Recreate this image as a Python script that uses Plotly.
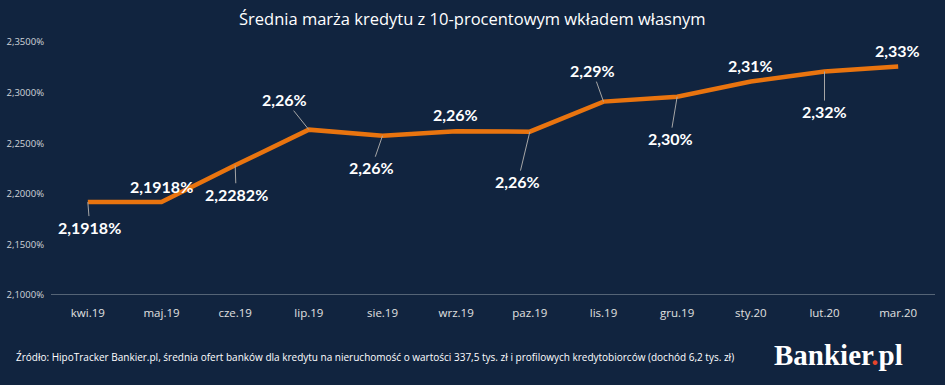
import plotly.graph_objects as go

categories = ["kwi.19", "maj.19", "cze.19", "lip.19", "sie.19", "wrz.19",
              "paz.19", "lis.19", "gru.19", "sty.20", "lut.20", "mar.20"]
values = [2.1918, 2.1918, 2.2282, 2.2634, 2.2574, 2.2618,
          2.2614, 2.2911, 2.2960, 2.3110, 2.3208, 2.3257]
labels = ["2,1918%", "2,1918%", "2,2282%", "2,26%", "2,26%", "2,26%",
          "2,26%", "2,29%", "2,30%", "2,31%", "2,32%", "2,33%"]
# label offsets (px) relative to point, and whether a leader line is shown
label_dx = [2, 0, 1, -24, -11, -1, -12, -11, -7, 0, 0, -1]
label_dy = [25, -16, 29, -30, 32, -17, 50, -31, 42, -16, 40, -16]
leader = [True, False, True, True, True, False, True, True, True, False, True, False]

ytick_vals = [2.10, 2.15, 2.20, 2.25, 2.30, 2.35]
ytick_text = ["2,1000%", "2,1500%", "2,2000%", "2,2500%", "2,3000%", "2,3500%"]

title = "Średnia marża kredytu z 10-procentowym wkładem własnym"
source = ("Źródło: HipoTracker Bankier.pl, średnia ofert banków dla kredytu na nieruchomość "
          "o wartości 337,5 tys. zł i profilowych kredytobiorców (dochód 6,2 tys. zł)")

BG = "#11243f"
ORANGE = "#e9740f"
FONT = "Lato"

fig = go.Figure()
fig.add_trace(go.Scatter(
    x=categories, y=values, mode="lines",
    line=dict(color=ORANGE, width=4.5), hoverinfo="skip", showlegend=False,
))

for c, v, t, dx, dy, ld in zip(categories, values, labels, label_dx, label_dy, leader):
    fig.add_annotation(
        x=c, y=v, text=t, showarrow=True, ax=dx, ay=dy,
        arrowhead=0, arrowwidth=1,
        arrowcolor="#a6a6a6" if ld else "rgba(0,0,0,0)",
        standoff=0, startstandoff=0,
        font=dict(family=FONT, size=16, color="white", weight="bold"),
    )

fig.add_annotation(
    xref="paper", yref="paper", x=(472 - 51) / 884, y=1, yshift=24, showarrow=False,
    text=title, font=dict(family="Open Sans", size=16.5, color="white"),
    xanchor="center", yanchor="middle",
)
fig.add_annotation(
    xref="paper", yref="paper", x=(14 - 51) / 884, y=0, yshift=-62, showarrow=False,
    text=source, font=dict(family="Open Sans", size=10, color="white"),
    xanchor="left", yanchor="middle",
)
fig.add_annotation(
    xref="paper", yref="paper", x=1.0, xshift=-30, y=0, yshift=-60, showarrow=False,
    text="Bankier<span style='color:#e8452c'>.</span>pl",
    font=dict(family="Liberation Serif", size=29, color="white", weight="bold"),
    xanchor="right", yanchor="middle",
)

fig.update_layout(
    width=945, height=385,
    margin=dict(l=51, r=10, t=42, b=90),
    paper_bgcolor=BG, plot_bgcolor=BG,
    xaxis=dict(
        type="category", range=[-0.5, len(categories) - 0.5],
        showgrid=False, zeroline=False, automargin=False,
        showline=False, ticks="", ticklabelstandoff=9,
        tickfont=dict(family="Open Sans", size=11.5, color="#e0e0e0"),
    ),
    yaxis=dict(
        range=[2.10, 2.35], showgrid=False, zeroline=False, showline=False,
        automargin=False,
        tickvals=ytick_vals, ticktext=ytick_text, ticks="",
        tickfont=dict(family="Open Sans", size=9.5, color="#d0d4da"),
        ticklabelstandoff=6,
    ),
    shapes=[dict(type="line", xref="paper", yref="y", x0=0, x1=1, y0=2.10, y1=2.10,
                 line=dict(color="#9aa3ae", width=1.2))],
)

fig.write_html("out.html", config={"displayModeBar": False},
               post_script="document.body.style.margin='0';")
